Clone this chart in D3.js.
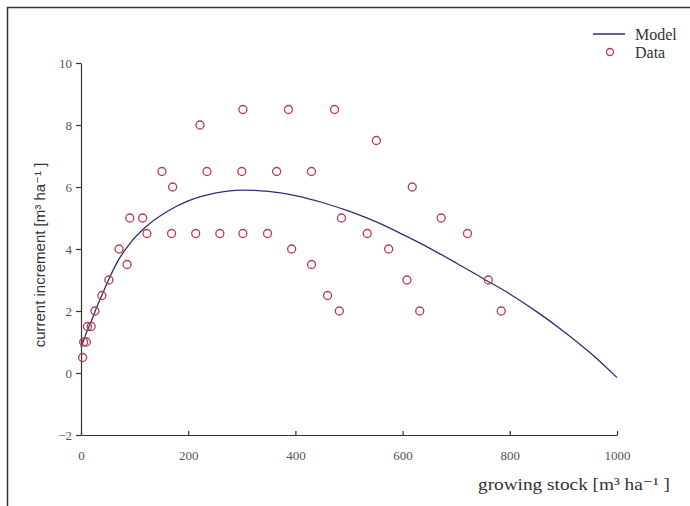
<!DOCTYPE html>
<html>
<head>
<meta charset="utf-8">
<script src="https://cdn.jsdelivr.net/npm/d3@7"></script>
<style>
  html, body { margin: 0; padding: 0; background: #fff; }
  svg { display: block; }
</style>
</head>
<body>
<svg id="chart" width="690" height="506"></svg>
<script>
// ---- data ----
const dataX = [3, 5, 10, 12, 19, 26, 39, 52, 71, 86, 91, 115, 123, 151, 169, 171, 214, 222, 235, 259,
               300, 302, 302, 348, 365, 387, 393, 430, 430, 460, 473, 482, 486, 534, 551, 574, 608,
               618, 632, 672, 721, 760, 784];
const dataY = [0.5, 1, 1, 1.5, 1.5, 2, 2.5, 3, 4, 3.5, 5, 5, 4.5, 6.5, 4.5, 6, 4.5, 8, 6.5, 4.5,
               6.5, 8.5, 4.5, 4.5, 6.5, 8.5, 4, 6.5, 3.5, 2.5, 8.5, 2, 5, 4.5, 7.5, 4, 3,
               6, 2, 5, 4.5, 3, 2];

const modelX = [0, 5, 10, 20, 30, 40, 50, 70, 90, 120, 160, 200, 250, 300, 350, 400, 450, 500,
                550, 600, 650, 700, 750, 800, 850, 900, 950, 1000];
const modelY = [0.85, 1.05, 1.3, 1.7, 2.15, 2.55, 2.95, 3.65, 4.15, 4.7, 5.2, 5.55, 5.8, 5.9, 5.86,
                5.72, 5.5, 5.22, 4.88, 4.47, 4.03, 3.55, 3.05, 2.55, 1.98, 1.35, 0.65, -0.15];

const xTicks = [0, 200, 400, 600, 800, 1000];
const yTicks = [-2, 0, 2, 4, 6, 8, 10];
const legendLabels = ["Model", "Data"];
const xTitle = "growing stock [m\u00B3 ha\u207B\u00B9 ]";
const yTitle = "current increment [m\u00B3 ha\u207B\u00B9 ]";

// ---- drawing ----
const svg = d3.select("#chart");
const serif = "'Liberation Serif', 'DejaVu Serif', serif";
const sans = "'Liberation Sans', 'DejaVu Sans', sans-serif";
const lineColor = "#2b2f7a";
const dotColor = "#b83c4c";

// outer frame (left and top edges visible)
svg.append("path")
  .attr("d", "M7.5,506 L7.5,7.5 L690,7.5")
  .attr("fill", "none").attr("stroke", "#333").attr("stroke-width", 1.5);

const x = d3.scaleLinear().domain([0, 1000]).range([81, 617]);
const y = d3.scaleLinear().domain([-2, 10]).range([435, 63]);

// y axis
const yAxis = svg.append("g")
  .attr("transform", `translate(${x(0)},0)`)
  .call(d3.axisLeft(y).tickValues(yTicks).tickSizeInner(5).tickSizeOuter(0).tickPadding(4)
        .tickFormat(d3.format("d")));
yAxis.selectAll("text").attr("font-family", serif).attr("font-size", 13).attr("fill", "#555");

// x axis
const xAxis = svg.append("g")
  .attr("transform", `translate(0,${y(-2)})`)
  .call(d3.axisBottom(x).tickValues(xTicks).tickSizeInner(-4).tickSizeOuter(0).tickPadding(16)
        .tickFormat(d3.format("d")));
xAxis.selectAll("text").attr("font-family", serif).attr("font-size", 13).attr("fill", "#555");

svg.selectAll(".domain, .tick line").attr("stroke", "#333").attr("stroke-width", 1.2);

// model curve
const line = d3.line()
  .x((d, i) => x(modelX[i]))
  .y((d, i) => y(modelY[i]))
  .curve(d3.curveMonotoneX);
svg.append("path")
  .datum(modelX)
  .attr("d", line)
  .attr("fill", "none")
  .attr("stroke", lineColor)
  .attr("stroke-width", 1.3);

// data points
svg.append("g").selectAll("circle")
  .data(dataX)
  .join("circle")
  .attr("cx", (d, i) => x(dataX[i]))
  .attr("cy", (d, i) => y(dataY[i]))
  .attr("r", 4)
  .attr("fill", "none")
  .attr("stroke", dotColor)
  .attr("stroke-width", 1.3);

// axis titles
svg.append("text")
  .attr("x", 478).attr("y", 490)
  .attr("textLength", 192).attr("lengthAdjust", "spacingAndGlyphs")
  .attr("font-family", serif).attr("font-size", 17).attr("fill", "#333")
  .text(xTitle);

svg.append("text")
  .attr("transform", "translate(45,255) rotate(-90)")
  .attr("text-anchor", "middle")
  .attr("font-family", sans).attr("font-size", 15).attr("fill", "#333")
  .text(yTitle);

// legend
const lg = svg.append("g");
lg.append("line").attr("x1", 593).attr("x2", 625).attr("y1", 34).attr("y2", 34)
  .attr("stroke", lineColor).attr("stroke-width", 1.5);
lg.append("circle").attr("cx", 610).attr("cy", 52).attr("r", 3.5)
  .attr("fill", "none").attr("stroke", dotColor).attr("stroke-width", 1.3);
lg.selectAll("text.lab").data(legendLabels).join("text")
  .attr("class", "lab")
  .attr("x", 635)
  .attr("y", (d, i) => 34 + i * 18)
  .attr("dy", "0.35em")
  .attr("font-family", serif).attr("font-size", 16).attr("fill", "#333")
  .text(d => d);
</script>
</body>
</html>
